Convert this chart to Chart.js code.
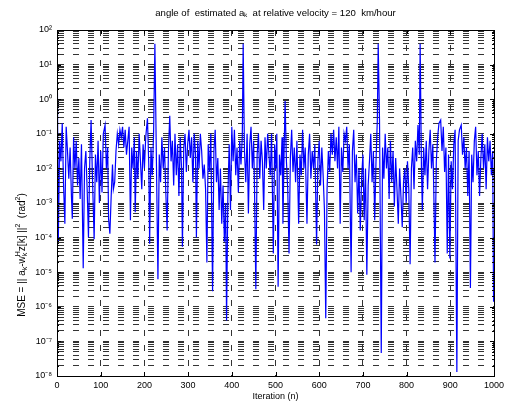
<!DOCTYPE html>
<html>
<head>
<meta charset="utf-8">
<script src="https://cdn.jsdelivr.net/npm/chart.js@4"></script>
<style>
  body { margin: 0; background: #fff; }
  #wrap { width: 512px; height: 405px; }
</style>
</head>
<body>
<div id="wrap"><canvas id="mseChart" width="512" height="405"></canvas></div>
<script>
// Iteração (n) e MSE
const iterations = [
  0, 1, 3, 6, 9, 12, 15, 18, 21, 24, 27, 30, 33, 35, 38, 41, 44, 47, 50, 53, 56, 60, 63, 66, 69, 72, 75, 78, 81, 85,
  88, 91, 94, 97, 100, 103, 106, 110, 113, 116, 118, 121, 124, 127, 129, 132, 135, 138, 141, 144, 147, 150, 153, 156, 159, 162, 165, 168, 171, 174,
  177, 179, 182, 185, 188, 191, 194, 197, 200, 203, 207, 210, 212, 215, 218, 221, 224, 227, 231, 234, 237, 240, 243, 246, 249, 252, 255, 258, 261, 264,
  267, 270, 273, 276, 279, 282, 285, 287, 290, 293, 296, 299, 302, 305, 308, 311, 314, 317, 319, 322, 325, 328, 331, 334, 337, 340, 343, 346, 349, 352,
  356, 359, 362, 365, 368, 371, 374, 377, 380, 383, 386, 388, 391, 394, 397, 400, 403, 406, 409, 412, 415, 418, 421, 424, 426, 429, 432, 435, 438, 441,
  444, 447, 450, 452, 455, 458, 461, 464, 467, 470, 473, 476, 479, 482, 485, 488, 491, 495, 498, 501, 503, 506, 509, 512, 515, 517, 520, 522, 525, 528,
  531, 534, 537, 540, 543, 546, 549, 553, 556, 559, 562, 565, 568, 572, 575, 578, 581, 584, 587, 590, 594, 597, 600, 603, 606, 609, 612, 615, 618, 621,
  624, 627, 630, 633, 636, 639, 642, 645, 648, 651, 654, 657, 660, 663, 666, 669, 673, 676, 679, 682, 685, 688, 691, 694, 697, 700, 703, 706, 709, 712,
  715, 718, 721, 724, 727, 730, 733, 735, 738, 742, 745, 748, 751, 754, 757, 760, 763, 766, 769, 772, 775, 778, 781, 784, 787, 790, 793, 796, 799, 802,
  805, 808, 811, 814, 817, 820, 823, 826, 829, 831, 834, 836, 839, 842, 845, 848, 851, 854, 857, 860, 862, 865, 868, 871, 874, 878, 881, 884, 887, 890,
  893, 896, 899, 902, 905, 908, 911, 915, 918, 921, 925, 928, 931, 934, 937, 940, 943, 946, 949, 952, 955, 958, 961, 964, 967, 970, 973, 976, 979, 982,
  985, 988, 991, 994, 997, 999
];
const mse = [
  0.1, 1.6, 7.9e-5, 0.063, 0.016, 0.2, 0.0032, 2.5e-4, 0.16, 0.032, 0.005, 0.04, 0.0016, 3.5e-4, 0.079, 0.01, 0.063, 0.0032, 0.02, 0.0013, 0.05, 1.3e-5, 0.01, 0.032, 0.0025, 1e-4, 0.016, 0.25, 0.0063, 8.9e-5,
  0.025, 0.004, 0.063, 0.001, 0.032, 0.002, 0.1, 0.18, 0.01, 0.04, 3.5e-4, 1.3e-4, 0.0016, 0.013, 0.0025, 0.004, 0.032, 0.1, 0.05, 0.13, 0.079, 0.16, 0.04, 0.13, 0.025, 0.063, 0.16, 3.2e-4, 0.04, 0.01,
  0.079, 5.4e-4, 0.032, 0.005, 0.1, 0.016, 0.0025, 0.05, 0.01, 0.079, 0.28, 0.013, 6.6e-5, 0.04, 0.0063, 0.1, 40, 0.05, 6.3e-6, 0.025, 0.004, 0.079, 0.01, 0.04, 0.002, 1.6e-4, 0.032, 0.33, 0.016, 0.063,
  0.0032, 0.1, 0.0063, 0.05, 0.0016, 0.079, 0.01, 5.4e-5, 0.04, 0.1, 0.0079, 0.05, 0.13, 0.02, 0.079, 0.004, 0.1, 0.025, 1e-4, 0.063, 0.01, 0.1, 0.032, 0.005, 0.013, 0.0025, 1.9e-5, 0.05, 0.0079, 0.1,
  2.8e-6, 0.032, 0.13, 0.004, 0.02, 6.3e-4, 0.01, 2.5e-4, 0.0032, 7.6e-5, 0.001, 4e-7, 0.0016, 0.05, 6.3e-4, 0.16, 0.016, 0.13, 0.0063, 0.04, 0.002, 0.063, 0.013, 0.079, 40, 0.032, 0.004, 0.1, 5e-4, 0.05,
  0.16, 0.01, 0.063, 0.0025, 3.2e-6, 0.025, 0.1, 0.005, 0.063, 0.016, 6.3e-4, 0.079, 0.01, 0.1, 0.025, 0.0063, 0.1, 3.5e-5, 0.05, 0.01, 0.1, 3.8e-6, 0.025, 0.0063, 0.079, 2.5e-4, 0.05, 0.89, 0.016, 0.0025,
  3.5e-5, 0.02, 0.13, 0.0079, 0.04, 0.004, 0.063, 2.5e-4, 0.025, 0.0063, 0.13, 0.01, 0.04, 2.5e-4, 0.025, 0.1, 0.005, 0.032, 0.01, 0.05, 6.3e-5, 0.016, 0.063, 0.0032, 0.04, 0.0063, 6.3e-4, 4.7e-7, 0.0025, 0.032,
  0.0079, 0.1, 0.025, 0.13, 0.016, 0.079, 0.01, 0.16, 2.5e-4, 0.04, 0.0079, 0.1, 0.063, 0.16, 0.01, 0.05, 1e-5, 0.032, 0.13, 0.004, 0.025, 5e-4, 0.01, 1.6e-4, 0.005, 0.025, 3.2e-4, 0.01, 8.5e-6, 0.0032,
  0.016, 0.1, 0.004, 0.032, 3.2e-4, 0.016, 0.25, 40, 0.25, 4.6e-8, 0.04, 0.005, 0.1, 0.01, 0.04, 0.0013, 0.063, 0.004, 0.032, 7.9e-4, 0.02, 0.0025, 2.5e-4, 0.01, 0.0016, 2e-4, 0.004, 0.01, 0.001, 0.016,
  0.0025, 1.7e-5, 0.01, 0.04, 0.0025, 0.063, 0.016, 0.18, 0.025, 40, 0.01, 6.3e-4, 0.04, 0.0063, 0.063, 0.0025, 0.032, 0.13, 0.01, 0.05, 0.0032, 1.9e-5, 0.016, 0.079, 0.2, 0.25, 0.032, 0.16, 0.0079, 0.04,
  3.5e-5, 0.025, 2.5e-5, 0.016, 0.0025, 0.05, 0.13, 1.3e-8, 0.063, 0.13, 0.18, 0.025, 0.079, 0.01, 0.04, 0.0016, 0.032, 3.5e-6, 0.025, 0.004, 0.063, 0.16, 0.0063, 0.032, 0.0016, 0.02, 0.1, 0.01, 0.05, 0.0025,
  0.079, 0.016, 0.063, 0.0063, 0.032, 1.4e-6
];

// eixo y: décadas e subdivisões da grade log
const decades = [-8, -7, -6, -5, -4, -3, -2, -1, 0, 1, 2];
const minorSteps = [1, 2, 3, 4, 5, 6, 7, 8, 9];

// rótulo do eixo y em pedaços: [texto, 0 normal | 1 sobrescrito | -1 subscrito | 2 sobre+sub]
const yTitleParts = [
    ['MSE = || a', 0], ['k', -1], ['-w', 0], ['H|k', 2], ['z[k] ||', 0], ['2', 1], ['  (rad', 0], ['2', 1], [')', 0]
];

const supMap = { '-': '⁻', '0': '⁰', '1': '¹', '2': '²', '3': '³', '4': '⁴', '5': '⁵', '6': '⁶', '7': '⁷', '8': '⁸', '9': '⁹' };
const sup = s => String(s).split('').map(c => supMap[c]).join('');

const yGrid = [];
decades.forEach(d => {
    minorSteps.forEach(m => {
        if (d === 2 && m > 1) return;
        yGrid.push(m * Math.pow(10, d));
    });
});
const decadeOf = v => {
    const e = Math.round(Math.log10(v));
    return Math.abs(v / Math.pow(10, e) - 1) < 1e-6 ? e : null;
};

const FONT = '"Liberation Sans", Arial, sans-serif';

// moldura, marcas internas e rótulo do eixo y
const frame = {
    id: 'frame',
    afterDatasetsDraw(chart) {
        const { ctx, chartArea: a, scales } = chart;
        ctx.save();
        ctx.strokeStyle = '#000';
        ctx.lineWidth = 1;
        ctx.beginPath();
        scales.x.ticks.forEach(t => {
            const px = Math.round(scales.x.getPixelForValue(t.value)) + 0.5;
            ctx.moveTo(px, a.bottom); ctx.lineTo(px, a.bottom - 4);
            ctx.moveTo(px, a.top); ctx.lineTo(px, a.top + 4);
        });
        scales.y.ticks.forEach(t => {
            const py = Math.round(scales.y.getPixelForValue(t.value)) + 0.5;
            const len = decadeOf(t.value) !== null ? 4 : 2;
            ctx.moveTo(a.left, py); ctx.lineTo(a.left + len, py);
            ctx.moveTo(a.right, py); ctx.lineTo(a.right - len, py);
        });
        ctx.stroke();
        ctx.strokeRect(Math.round(a.left) + 0.5, Math.round(a.top) + 0.5,
            Math.round(a.right - a.left), Math.round(a.bottom - a.top));
        ctx.restore();
    },
    afterDraw(chart) {
        const { ctx } = chart;
        const big = '10px ' + FONT, small = '7px ' + FONT;
        ctx.save();
        ctx.fillStyle = '#000';
        ctx.textBaseline = 'middle';
        const widths = yTitleParts.map(([t, k]) => {
            ctx.font = k === 0 ? big : small;
            return k === 2 ? Math.max(...t.split('|').map(s => ctx.measureText(s).width)) : ctx.measureText(t).width;
        });
        const total = widths.reduce((s, w) => s + w, 0);
        ctx.translate(22, 255);
        ctx.rotate(-Math.PI / 2);
        let x = -total / 2;
        yTitleParts.forEach(([t, k], i) => {
            ctx.font = k === 0 ? big : small;
            if (k === 0) ctx.fillText(t, x, 0);
            else if (k === 1) ctx.fillText(t, x, -4);
            else if (k === -1) ctx.fillText(t, x, 3);
            else { const [u, d] = t.split('|'); ctx.fillText(u, x, -4); ctx.fillText(d, x, 3); }
            x += widths[i];
        });
        ctx.restore();
    }
};

Chart.defaults.font.family = FONT;
Chart.defaults.font.size = 9;
Chart.defaults.color = '#000';

const ctx = document.getElementById('mseChart').getContext('2d');
new Chart(ctx, {
    type: 'line',
    data: {
        datasets: [{
            data: iterations.map((n, i) => ({ x: n, y: mse[i] })),
            borderColor: '#0000ff',
            borderWidth: 1.2,
            pointRadius: 0,
            tension: 0,
            fill: false
        }]
    },
    options: {
        responsive: false,
        animation: false,
        layout: { padding: { left: 0, right: 18, top: 0, bottom: 0 } },
        plugins: {
            legend: { display: false },
            tooltip: { enabled: false }
        },
        scales: {
            x: {
                type: 'linear',
                position: 'bottom',
                min: 0,
                max: 1000,
                ticks: { stepSize: 100, padding: 4, maxRotation: 0, callback: v => String(v) },
                grid: { color: '#333', lineWidth: 1, drawTicks: false },
                border: { display: true, color: '#000', dash: [6, 9] },
                title: { display: true, text: 'Iteration (n)', padding: { top: 0, bottom: 2.6 } },
                afterFit: s => { s.height = 29; }
            },
            top: {
                type: 'linear',
                position: 'top',
                min: 0,
                max: 1000,
                ticks: { display: false },
                grid: { display: false, drawTicks: false },
                border: { display: false },
                title: {
                    display: true,
                    text: 'angle of  estimated aₖ  at relative velocity = 120  km/hour',
                    font: { size: 9.6 },
                    padding: { top: 7.4, bottom: 0 }
                },
                afterFit: s => { s.height = 30; }
            },
            y: {
                type: 'logarithmic',
                min: 1e-8,
                max: 1e2,
                afterBuildTicks: s => { s.ticks = yGrid.map(v => ({ value: v })); },
                ticks: {
                    autoSkip: false,
                    padding: 5,
                    callback: v => {
                        const e = decadeOf(v);
                        return e === null ? '' : '10' + sup(e);
                    }
                },
                grid: { color: '#333', lineWidth: 1, drawTicks: false },
                border: { display: true, color: '#000', dash: [6, 9] },
                title: { display: false },
                afterFit: s => { s.width = 57; }
            }
        }
    },
    plugins: [frame]
});
</script>
</body>
</html>
